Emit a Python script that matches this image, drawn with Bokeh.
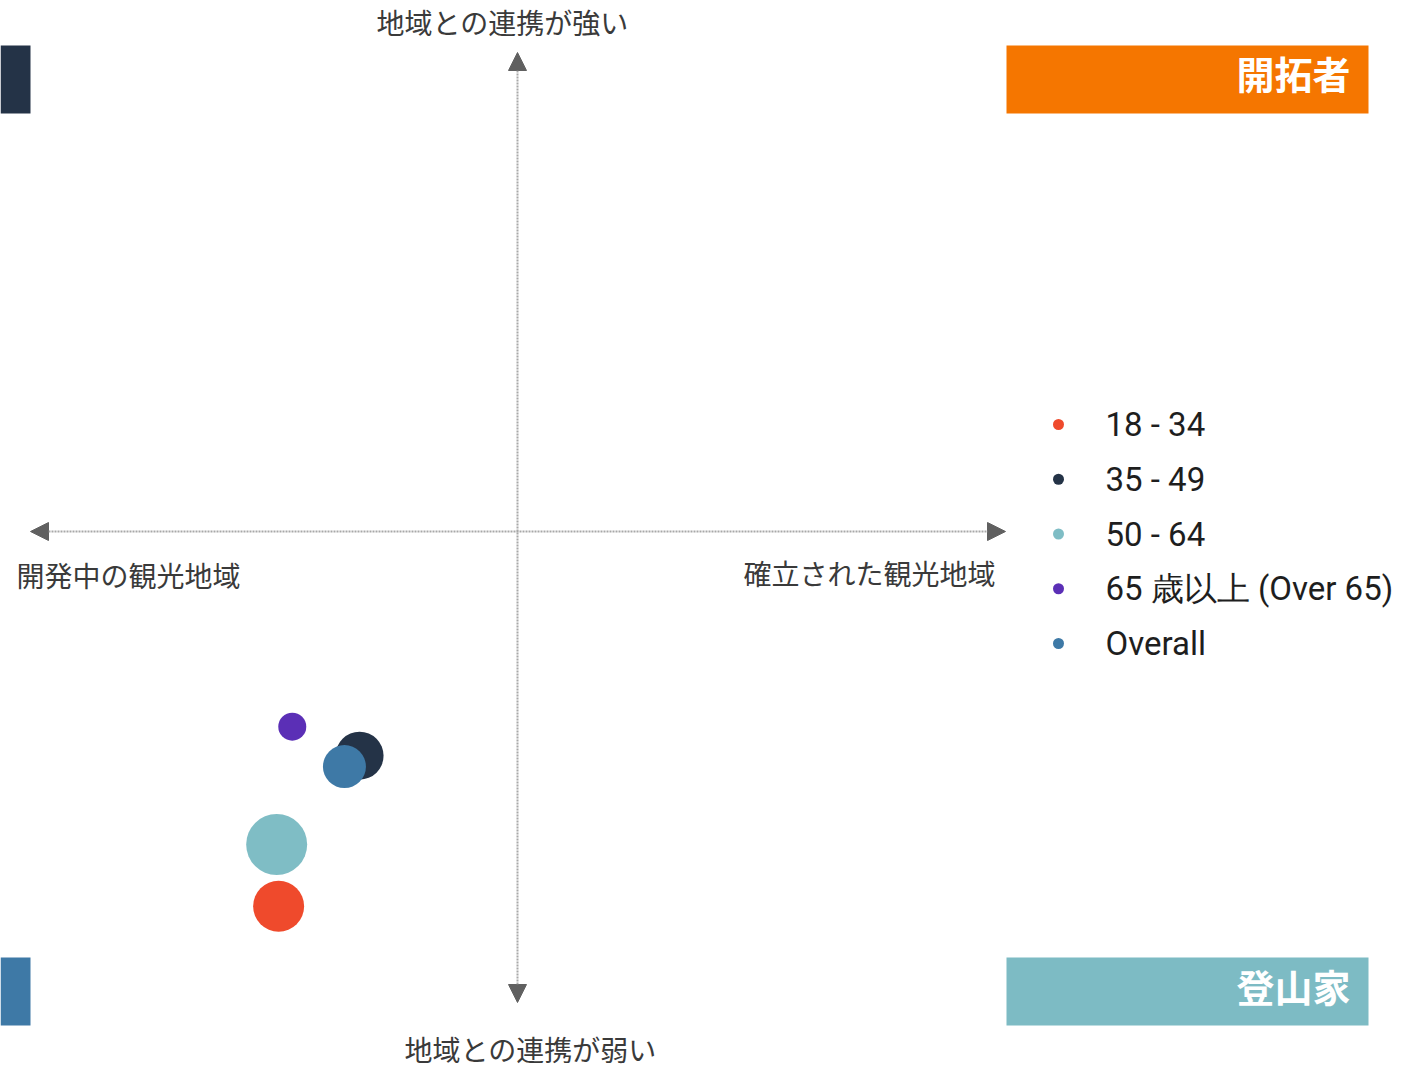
from bokeh.plotting import figure
from bokeh.models import Range1d, Arrow, NormalHead, ColumnDataSource
from bokeh.core.properties import value
from bokeh.embed import file_html
from bokeh.resources import INLINE

# ---- data ----
categories = ["18 - 34", "35 - 49", "50 - 64", "65 歳以上 (Over 65)", "Overall"]
colors = ["#EF4A2C", "#243347", "#7FBDC5", "#5B2FB6", "#3E79A6"]
x_vals = [-49.0, -32.4, -49.4, -46.2, -35.5]      # 確立された観光地域 (+) / 開発中の観光地域 (-)
y_vals = [-78.9, -47.2, -65.9, -41.1, -49.5]      # 地域との連携 強い (+) / 弱い (-)
sizes = [51, 48, 61, 28, 43]

axis_labels = ["地域との連携が強い", "地域との連携が弱い", "開発中の観光地域", "確立された観光地域"]
quadrant_names = ["開拓者", "登山家"]
quadrant_colors = ["#F57600", "#7DBBC4"]
left_tab_colors = ["#243347", "#3E79A6"]

# ---- layout helpers (screen px -> chart units) ----
W, H = 1410, 1069
OX, OY = 0, 0
CX, CY = 517.0, 531.0
SX, SY = 4.875, 4.75


def ux(sx):
    return (sx - CX) / SX


def uy(sy):
    return (CY - sy) / SY


p = figure(width=W, height=H, output_backend="svg", toolbar_location=None,
           x_range=Range1d(ux(OX), ux(OX + W)), y_range=Range1d(uy(OY + H), uy(OY)),
           x_axis_type=None, y_axis_type=None, min_border=0)
p.grid.visible = False
p.outline_line_color = None
p.background_fill_color = "white"
p.border_fill_color = "white"

# quadrant boxes
p.quad(left=[ux(1006)] * 2, right=[ux(1368)] * 2,
       top=[uy(45), uy(957)], bottom=[uy(113), uy(1025)],
       fill_color=quadrant_colors, line_color=None)
p.text(x=[ux(1350)] * 2, y=[uy(72), uy(985)], text=quadrant_names,
       text_font=value("Noto Sans CJK JP"), text_font_style="bold",
       text_font_size="38px", text_color="white",
       text_align="right", text_baseline="middle")

# left tabs
p.quad(left=[ux(0)] * 2, right=[ux(30)] * 2,
       top=[uy(45), uy(957)], bottom=[uy(113), uy(1025)],
       fill_color=left_tab_colors, line_color=None)

# axes arrows
for xs, ys, xe, ye in [(ux(30), 0, ux(1005), 0), (0, uy(1002), 0, uy(52))]:
    p.add_layout(Arrow(
        start=NormalHead(size=18, fill_color="#606060", line_color="#606060"),
        end=NormalHead(size=18, fill_color="#606060", line_color="#606060"),
        x_start=xs, y_start=ys, x_end=xe, y_end=ye,
        line_color="#a8a8a8", line_width=2, line_dash="2 1"))

# axis labels
lab_font = value("Noto Sans CJK JP")
p.text(x=[ux(502), ux(530)], y=[uy(21), uy(1048)], text=axis_labels[:2],
       text_font=lab_font, text_font_size="28px", text_color="#3a3a3a",
       text_align="center", text_baseline="middle")
p.text(x=[ux(16)], y=[uy(574)], text=[axis_labels[2]],
       text_font=lab_font, text_font_size="28px", text_color="#3a3a3a",
       text_align="left", text_baseline="middle")
p.text(x=[ux(995)], y=[uy(572)], text=[axis_labels[3]],
       text_font=lab_font, text_font_size="28px", text_color="#3a3a3a",
       text_align="right", text_baseline="middle")

# bubbles
src = ColumnDataSource(dict(x=x_vals, y=y_vals, size=sizes, color=colors, cat=categories))
p.scatter("x", "y", size="size", fill_color="color", line_color=None, source=src)

# legend (manual)
leg_y = [uy(424 + i * 54.75) for i in range(len(categories))]
p.scatter([ux(1058)] * len(categories), leg_y, size=11, fill_color=colors, line_color=None)
p.text(x=[ux(1105)] * len(categories), y=leg_y, text=categories,
       text_font=value("Roboto"), text_font_size="33px", text_color="#1e1e1e",
       text_align="left", text_baseline="middle")

open("out.html", "w").write(file_html(p, INLINE))
